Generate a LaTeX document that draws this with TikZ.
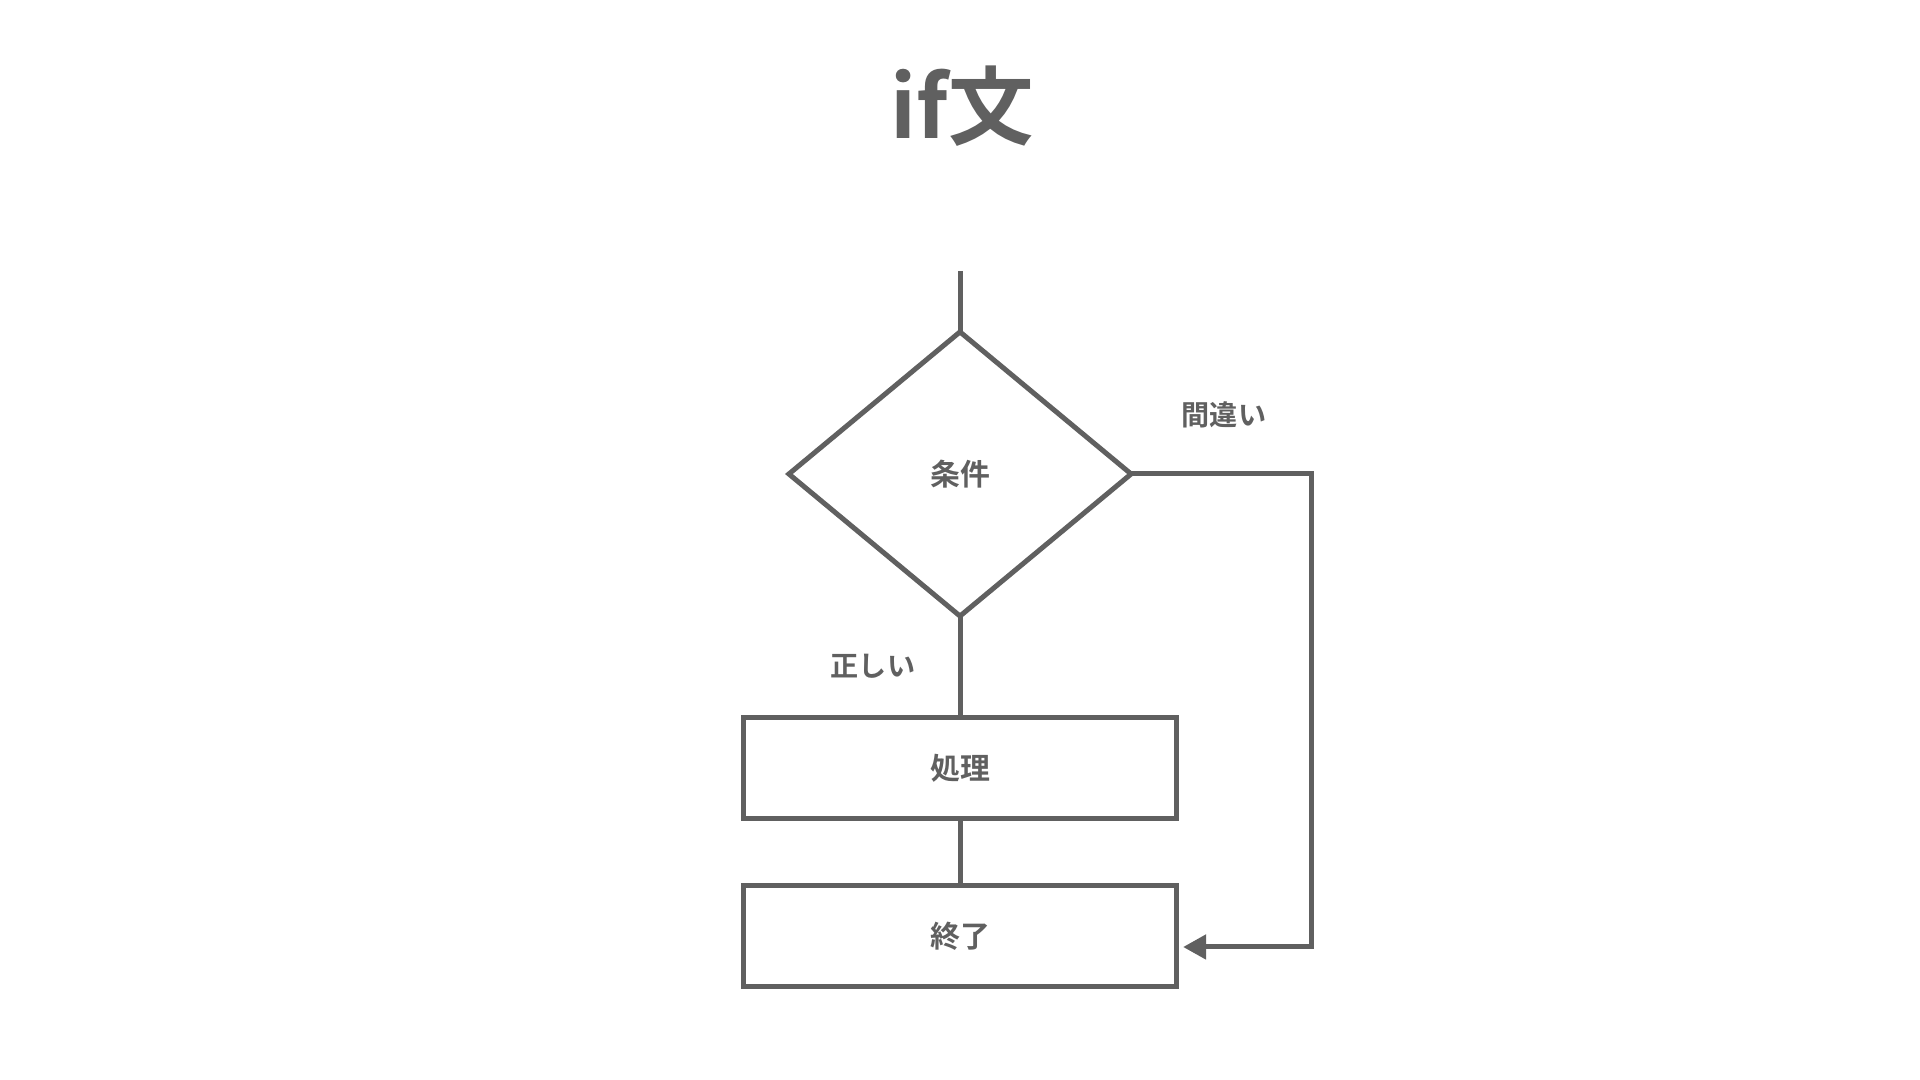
\documentclass[tikz,border=0pt]{standalone}
\usepackage{fontspec}
\setmainfont{Noto Sans CJK JP}[BoldFont={Noto Sans CJK JP Bold}]
\usetikzlibrary{shapes.geometric,arrows.meta,calc}
\definecolor{ink}{HTML}{606060}
\begin{document}
\begin{tikzpicture}[x=0.01cm,y=-0.01cm,
  every node/.style={text=ink,font=\bfseries\fontsize{8.5pt}{10pt}\selectfont},
  line/.style={draw=ink,line width=1.42pt},
  boxnode/.style={line,rectangle,minimum width=4.32cm,minimum height=1cm,inner sep=0pt,outer sep=0pt},
  decide/.style={line,diamond,minimum width=3.42cm,minimum height=2.84cm,inner sep=0pt,outer sep=0pt},
  lbl/.style={font=\bfseries\fontsize{8pt}{10pt}\selectfont},
  tip/.style={-{Triangle[length=0.23cm,width=0.24cm]}}]
\useasboundingbox (0,0) rectangle (1920,1080);
\node[font=\bfseries\fontsize{24.3pt}{28pt}\selectfont] (title) at (962,106) {if文};
\coordinate (start) at (960,271);
\node[decide] (cond) at (960,474) {条件};
\node[boxnode] (proc) at (960,768) {処理};
\node[boxnode] (end) at (960,936) {終了};
\coordinate (turn) at (1311,947);
\node[lbl] (no) at (1224,415) {間違い};
\node[lbl] (yes) at (873,666) {正しい};
\draw[line,line cap=butt] (start) -- (cond.north);
\draw[line] (cond.south) -- (proc.north);
\draw[line] (proc.south) -- (end.north);
\draw[line,tip,line join=miter] (cond.east) -| (turn) -- ([xshift=0.07cm]end.east |- turn);
\end{tikzpicture}
\end{document}
